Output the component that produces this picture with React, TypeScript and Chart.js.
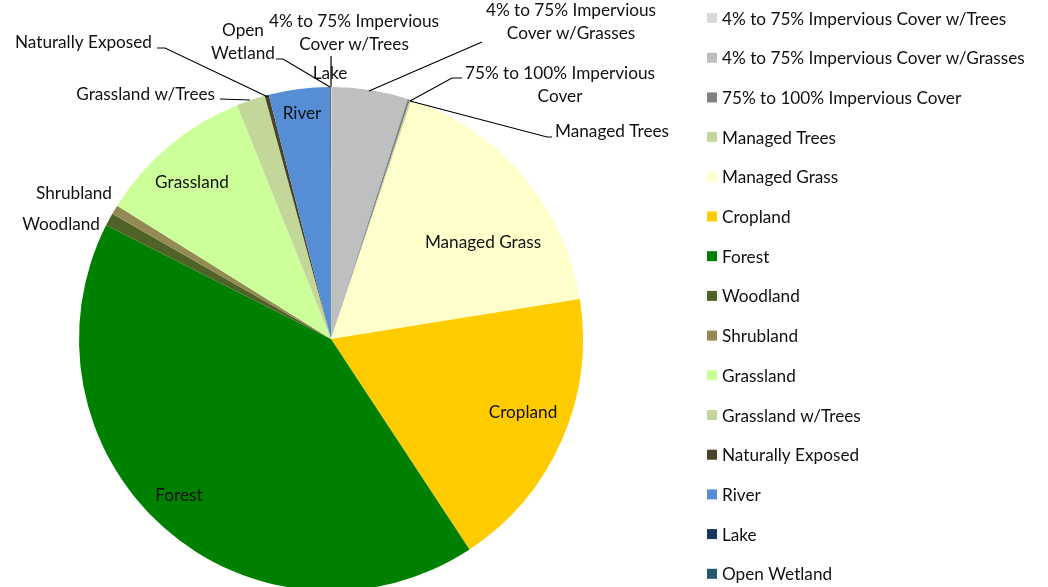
import React, { useEffect, useRef } from "react";
import { Chart, registerables } from "chart.js";

Chart.register(...registerables);

const categories = [
  "4% to 75% Impervious Cover w/Trees",
  "4% to 75% Impervious Cover w/Grasses",
  "75% to 100% Impervious Cover",
  "Managed Trees",
  "Managed Grass",
  "Cropland",
  "Forest",
  "Woodland",
  "Shrubland",
  "Grassland",
  "Grassland w/Trees",
  "Naturally Exposed",
  "River",
  "Lake",
  "Open Wetland",
];

const shares = [0.03, 4.9, 0.15, 0.1, 17.3, 18.3, 41.75, 0.83, 0.6, 10.05, 1.85, 0.26, 3.9, 0.05, 0.03];

const colors = [
  "#D9D9D9", "#BFBFBF", "#808080", "#C4D79B", "#FFFFCC", "#FFCC00", "#008000",
  "#4F6228", "#948A54", "#CCFF99", "#C4D79B", "#4A452A", "#558ED5", "#17375E", "#215968",
];

const FONT = "17.2px Lato, 'Open Sans', sans-serif";
const TEXT = "#111";

type Lbl = { lines: string[]; x: number; y: number; align: CanvasTextAlign; path?: number[][] };

const labelSpecs: Lbl[] = [
  { lines: ["4% to 75% Impervious", "Cover w/Trees"], x: 354, y: 21, align: "center", path: [[331, 56], [331, 87]] },
  { lines: ["4% to 75% Impervious", "Cover w/Grasses"], x: 571, y: 10, align: "center", path: [[482, 42], [369, 91]] },
  { lines: ["75% to 100% Impervious", "Cover"], x: 560, y: 73, align: "center", path: [[462, 78], [452, 78], [410, 101]] },
  { lines: ["Managed Trees"], x: 555, y: 131, align: "left", path: [[552, 137], [547, 137], [410, 101]] },
  { lines: ["Managed Grass"], x: 483, y: 242, align: "center" },
  { lines: ["Cropland"], x: 523, y: 412, align: "center" },
  { lines: ["Forest"], x: 179, y: 495, align: "center" },
  { lines: ["Woodland"], x: 100, y: 224, align: "right" },
  { lines: ["Shrubland"], x: 112, y: 193, align: "right" },
  { lines: ["Grassland"], x: 192, y: 182, align: "center" },
  { lines: ["Grassland w/Trees"], x: 215, y: 94, align: "right", path: [[220, 99], [250, 100]] },
  { lines: ["Naturally Exposed"], x: 152, y: 42, align: "right", path: [[157, 48], [165, 48], [268, 97]] },
  { lines: ["River"], x: 302, y: 113, align: "center" },
  { lines: ["Lake"], x: 330, y: 73, align: "center" },
  { lines: ["Open", "Wetland"], x: 243, y: 30, align: "center", path: [[276, 59], [283, 59], [330, 87]] },
];

const LEGEND_X = 707;
const LEGEND_Y0 = 18;
const LEGEND_STEP = 39.7;

const overlay = {
  id: "overlay",
  afterDraw(chart: any) {
    const ctx: CanvasRenderingContext2D = chart.ctx;
    ctx.save();
    ctx.font = FONT;
    ctx.fillStyle = TEXT;
    ctx.textBaseline = "middle";
    ctx.strokeStyle = "#000";
    ctx.lineWidth = 1.2;
    for (const l of labelSpecs) {
      if (l.path) {
        ctx.beginPath();
        l.path.forEach((p, i) => (i === 0 ? ctx.moveTo(p[0], p[1]) : ctx.lineTo(p[0], p[1])));
        ctx.stroke();
      }
    }
    for (const l of labelSpecs) {
      ctx.textAlign = l.align;
      l.lines.forEach((s, i) => ctx.fillText(s, l.x, l.y + i * 23.5));
    }
    // legend
    ctx.textAlign = "left";
    categories.forEach((c, i) => {
      const y = LEGEND_Y0 + i * LEGEND_STEP;
      ctx.fillStyle = colors[i];
      ctx.fillRect(LEGEND_X, y - 5, 10, 10);
      ctx.fillStyle = TEXT;
      ctx.fillText(c, LEGEND_X + 15, y + 1);
    });
    ctx.restore();
  },
};

export default function App() {
  const ref = useRef<HTMLCanvasElement>(null);
  useEffect(() => {
    if (!ref.current) return;
    const chart = new Chart(ref.current, {
      type: "pie",
      data: {
        labels: categories,
        datasets: [{ data: shares, backgroundColor: colors, borderWidth: 0 }],
      },
      options: {
        animation: false,
        responsive: false,
        devicePixelRatio: 1,
        layout: { padding: { left: 79, right: 465, top: 87, bottom: 109 } },
        plugins: { legend: { display: false }, tooltip: { enabled: false } },
      },
      plugins: [overlay],
    });
    return () => chart.destroy();
  }, []);
  return (
    <div style={{ position: "fixed", left: 0, top: 0, width: 1048, height: 587, overflow: "hidden", background: "#fff" }}>
      <canvas ref={ref} width={1048} height={700} style={{ width: 1048, height: 700, display: "block" }} />
    </div>
  );
}
